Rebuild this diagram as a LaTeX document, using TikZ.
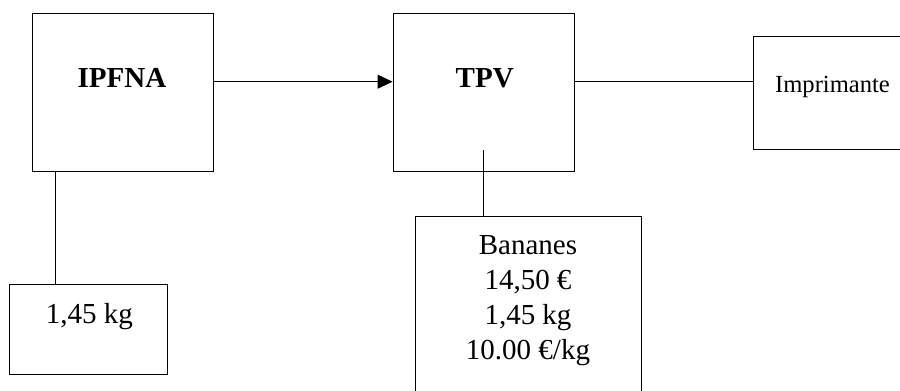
\documentclass[tikz,border=0pt]{standalone}
\usepackage{fontspec}
\setmainfont{Liberation Serif}
\usetikzlibrary{arrows.meta}
\begin{document}
\begin{tikzpicture}[x=0.5pt,y=-0.5pt,
  box/.style={draw,line width=0.45pt,inner sep=0pt},
  txt/.style={inner sep=0pt,anchor=base,font=\fontsize{14.5}{17.4}\selectfont},
  conn/.style={line width=0.45pt}]
\useasboundingbox (0,0) rectangle (900,391);
% boxes
\node[box,minimum width=90.5pt,minimum height=79pt] (ipfna) at (122.5,92.7) {};
\node[box,minimum width=90.5pt,minimum height=79pt] (tpv) at (483.5,92.7) {};
\node[box,minimum width=75.65pt,minimum height=56.3pt] (impr) at (829.35,93) {};
\node[box,minimum width=79pt,minimum height=44.8pt] (kg) at (88.7,329.5) {};
\node[box,minimum width=112.8pt,minimum height=91.65pt] (ban) at (528.5,308.35) {};
% texts
\node[txt,font=\fontsize{14.5}{17.4}\selectfont\bfseries] (tipfna) at (122,87.3) {IPFNA};
\node[txt,font=\fontsize{14.5}{17.4}\selectfont\bfseries] (ttpv) at (484.7,87.3) {TPV};
\node[txt,font=\fontsize{12.3}{14}\selectfont] (timpr) at (832.5,92.7) {Imprimante};
\node[txt] (tkg) at (89.5,323.3) {1,45 kg};
\node[txt,align=center] (tban) at (528,359.3) {Bananes\\14,50 €\\1,45 kg\\10.00 €/kg};
% connectors
\draw[conn,-{Triangle[length=7.5pt,width=7pt]}] ([yshift=5.5pt]ipfna.east) -- ([yshift=5.5pt]tpv.west);
\draw[conn] ([yshift=5.5pt]tpv.east) -- ([yshift=5.5pt]tpv.east -| impr.west);
\draw[conn] ([xshift=-33.6pt]ipfna.south) coordinate (p1) -- (p1 |- kg.north);
\draw[conn] ([yshift=11pt]tpv.south) coordinate (p2) -- (p2 |- ban.north);
\end{tikzpicture}
\end{document}
